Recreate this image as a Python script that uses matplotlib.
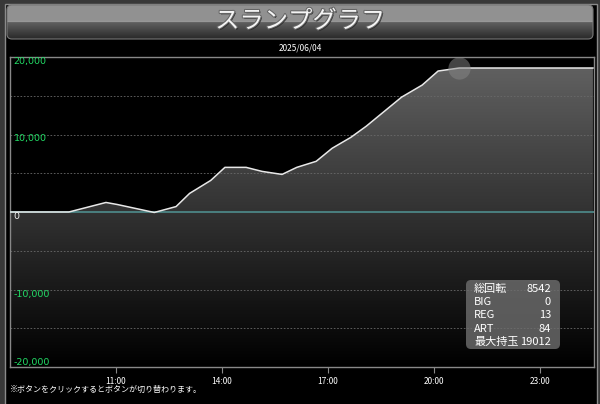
"""
Slump graph (スランプグラフ) recreation.
"""

import numpy as np
import matplotlib
matplotlib.use('Agg')
import matplotlib.pyplot as plt
from matplotlib.patches import FancyBboxPatch, Rectangle, Polygon
import matplotlib.patheffects as pe

plt.rcParams['font.family'] = ['Noto Sans CJK JP', 'DejaVu Sans']

# data
times = ['8:00', '9:40', '10:43', '11:02', '12:05', '12:42', '13:05', '13:41',
         '14:05', '14:41', '15:08', '15:42', '16:07', '16:40', '17:07', '17:39',
         '18:05', '19:05', '19:40', '20:07', '20:43', '24:30']
values = [0, 0, 1230, 970, -60, 700, 2400, 4080,
          5760, 5760, 5240, 4850, 5760, 6540, 8220, 9640,
          11070, 14820, 16380, 18190, 18580, 18580]
max_point = ('20:43', 18580)
date_label = '2025/06/04'
tick_hours = [11, 14, 17, 20, 23]
y_ticks = [20000, 10000, 0, -10000, -20000]
grid_vals = [15000, 10000, 5000, -5000, -10000, -15000]
stat_names = ['総回転', 'BIG', 'REG', 'ART', '最大持玉']
stat_values = ['8542', '0', '13', '84', '19012']


def to_hours(s):
    h, m = s.split(':')
    return int(h) + int(m) / 60.0


t = np.array([to_hours(s) for s in times])
v = np.array(values, dtype=float)

fig = plt.figure(figsize=(6.0, 4.04), dpi=100, facecolor='#383838')

# background / frame in pixel coordinates
bg = fig.add_axes([0, 0, 1, 1])
bg.set_xlim(0, 600)
bg.set_ylim(404, 0)
bg.axis('off')
bg.add_patch(Rectangle((5, 3.5), 592, 404, facecolor='black', edgecolor='#8a8a8a', lw=1.0))

# title bar with two-tone gradient
bar = FancyBboxPatch((7, 5), 586, 34, boxstyle='round,pad=0,rounding_size=5',
                     facecolor='none', edgecolor='#777777', lw=0.8, zorder=2)
bg.add_patch(bar)
grad = np.zeros((100, 1, 3))
for i in range(100):
    f = i / 99.0
    if f < 0.47:
        c = 0.57
    elif f < 0.5:
        c = 0.62
    else:
        c = 0.38 - 0.22 * (f - 0.5) / 0.5
    grad[i, 0, :] = c
im = bg.imshow(grad, extent=(7, 593, 39, 5), aspect='auto', zorder=1)
im.set_clip_path(bar)
bg.text(300, 21, 'スランプグラフ', color='#f4f4f4', fontsize=17.5, ha='center', va='center',
        zorder=3,
        path_effects=[pe.withSimplePatchShadow(offset=(1, -1), shadow_rgbFace='#222222', alpha=0.8),
                      pe.withStroke(linewidth=1.5, foreground='#666666')])
bg.text(300, 48, date_label, color='white', fontsize=6, ha='center', va='center')
bg.text(10, 389, '※ボタンをクリックするとボタンが切り替わります。', color='white',
        fontsize=5.8, ha='left', va='center')

# main chart
ax = fig.add_axes([10 / 600, (404 - 367) / 404, 584 / 600, 310 / 404])
ax.set_facecolor('black')
x0, x1 = 8.0, 24.53
y0, y1 = -20000, 20000
ax.set_xlim(x0, x1)
ax.set_ylim(y0, y1)

# gradient fill under the line
ny = 300
g = np.linspace(0.39, 0.0, ny)
img = np.dstack([g, g, g]).reshape(ny, 1, 3)
fill_im = ax.imshow(img, extent=(x0, x1, y0, y1), aspect='auto', zorder=1, origin='upper')
poly = Polygon(np.column_stack([np.r_[t, t[-1], t[0]], np.r_[v, y0, y0]]),
               closed=True, facecolor='none', edgecolor='none', transform=ax.transData)
ax.add_patch(poly)
fill_im.set_clip_path(poly)

for gv in grid_vals:
    ax.axhline(gv, color='#6a6a6a', lw=0.6, ls=(0, (2, 2)), zorder=2)
ax.axhline(0, color='#2e9a9a', lw=1.3, zorder=3)
ax.axhline(0, color='#a04848', lw=0.35, zorder=3)

ax.plot(t, v, color='#e8e8e8', lw=1.1, zorder=4)
ax.plot(to_hours(max_point[0]), max_point[1], 'o', ms=16, color='#888888',
        alpha=0.5, mec='none', zorder=5)

for yt in y_ticks:
    lab = f'{yt:,}'
    ax.text(x0 + 0.1, yt, lab, color='#22dd66' if yt != 0 else '#f0f0f0',
            fontsize=6.8, ha='left',
            va='top' if yt > -20000 else 'bottom',
            transform=ax.transData, zorder=6,
            fontfamily=['DejaVu Sans'])

ax.set_xticks(tick_hours)
ax.set_xticklabels([f'{h}:00' for h in tick_hours], color='white', fontsize=6)
ax.tick_params(axis='x', colors='#888888', length=4, width=0.8, pad=3, labelcolor='white')
ax.set_yticks([])
for s in ax.spines.values():
    s.set_color('#888888')
    s.set_linewidth(1.0)

# stats box on an overlay so it sits above the chart
ov = fig.add_axes([0, 0, 1, 1])
ov.set_xlim(0, 600)
ov.set_ylim(404, 0)
ov.axis('off')
ov.patch.set_alpha(0)
ov.add_patch(FancyBboxPatch((466, 280), 94, 69, boxstyle='round,pad=0,rounding_size=5',
                            facecolor='#6e6e6e', edgecolor='none', alpha=0.8, zorder=5))
for i, (n, val) in enumerate(zip(stat_names, stat_values)):
    yy = 289 + i * 13.2
    ov.text(474, yy, n, color='white', fontsize=8, ha='left', va='center', zorder=6)
    ov.text(551, yy, val, color='white', fontsize=8, ha='right', va='center', zorder=6)

fig.savefig('out.png', dpi=100, facecolor=fig.get_facecolor())
